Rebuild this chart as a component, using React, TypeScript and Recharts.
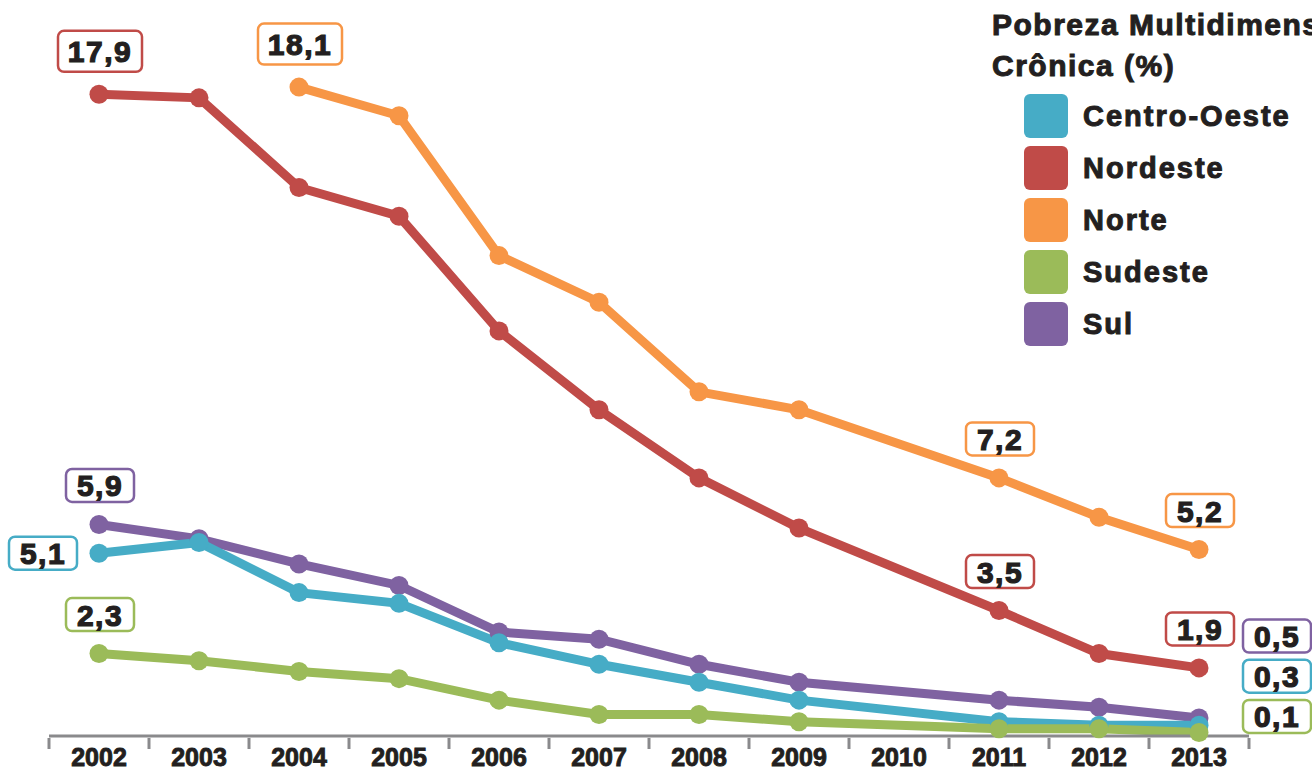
import React from 'react';
import { Legend, Line, LineChart, XAxis, YAxis } from 'recharts';

const years = ['2002', '2003', '2004', '2005', '2006', '2007', '2008', '2009', '2010', '2011', '2012', '2013'];

const centroOeste = [5.1, 5.4, 4.0, 3.7, 2.6, 2.0, 1.5, 1.0, null, 0.4, 0.3, 0.3];
const nordeste = [17.9, 17.8, 15.3, 14.5, 11.3, 9.1, 7.2, 5.8, null, 3.5, 2.3, 1.9];
const norte = [null, null, 18.1, 17.3, 13.4, 12.1, 9.6, 9.1, null, 7.2, 6.1, 5.2];
const sudeste = [2.3, 2.1, 1.8, 1.6, 1.0, 0.6, 0.6, 0.4, null, 0.2, 0.2, 0.1];
const sul = [5.9, 5.5, 4.8, 4.2, 2.9, 2.7, 2.0, 1.5, null, 1.0, 0.8, 0.5];

const legendOrder = ['Centro-Oeste', 'Nordeste', 'Norte', 'Sudeste', 'Sul'];

// anos com rótulo em cada série
const centroOesteLabels = ['2002', '2013'];
const nordesteLabels = ['2002', '2011', '2013'];
const norteLabels = ['2004', '2011', '2013'];
const sudesteLabels = ['2002', '2013'];
const sulLabels = ['2002', '2013'];

const data = years.map((year, i) => ({
  year,
  'Centro-Oeste': centroOeste[i],
  Nordeste: nordeste[i],
  Norte: norte[i],
  Sudeste: sudeste[i],
  Sul: sul[i],
}));

const FONT = '"Liberation Sans", Arial, Helvetica, sans-serif';
const TEXT = '#231F20';
const AXIS = '#8A8A8C';

const colors: Record<string, string> = {
  'Centro-Oeste': '#46ACC6',
  Nordeste: '#C04B48',
  Norte: '#F79646',
  Sudeste: '#9BBB59',
  Sul: '#7F62A1',
};

type Place = { dx: number; dy: number; big?: boolean };

const isBig = (name: string, year: string) =>
  (name === 'Nordeste' && year === '2002') || (name === 'Norte' && year === '2004');

const placeFor = (name: string, year: string): Place => {
  if (year === '2013' && name === 'Sul') return { dx: 78, dy: -82 };
  if (year === '2013' && name === 'Centro-Oeste') return { dx: 78, dy: -49 };
  if (year === '2013' && name === 'Sudeste') return { dx: 78, dy: -16 };
  if (name === 'Centro-Oeste') return { dx: -56, dy: 0 };
  if (isBig(name, year)) return { dx: 1, dy: -43, big: true };
  return { dx: 1, dy: -39 };
};

const makeLabel = (name: string, labelled: string[]) => (props: any) => {
  const { x, y, value, index } = props;
  const year = years[index];
  if (value == null || !labelled.includes(year)) return <g key={index} />;
  const p = placeFor(name, year);
  const w = p.big ? 84 : 68;
  const h = p.big ? 41 : 33;
  const cx = x + p.dx;
  const cy = y + p.dy;
  return (
    <g key={index}>
      <rect
        x={cx - w / 2}
        y={cy - h / 2}
        width={w}
        height={h}
        rx={6}
        fill='#fff'
        stroke={colors[name]}
        strokeWidth={2.5}
      />
      <text
        x={cx}
        y={cy + 11}
        textAnchor='middle'
        fontFamily={FONT}
        fontWeight={700}
        fontSize={30}
        letterSpacing={1.5}
        fill={TEXT}
        stroke={TEXT}
        strokeWidth={1.2}
      >
        {Number(value).toFixed(1).replace('.', ',')}
      </text>
    </g>
  );
};

const YearTick = (props: any) => {
  const { x, y, payload, index } = props;
  const half = 50;
  const top = y - 6;
  return (
    <g>
      <line x1={x - half} x2={x - half} y1={top} y2={top + 11} stroke={AXIS} strokeWidth={3} />
      {index === years.length - 1 && (
        <line x1={x + half} x2={x + half} y1={top} y2={top + 11} stroke={AXIS} strokeWidth={3} />
      )}
      <text
        x={x}
        y={top + 28}
        textAnchor='middle'
        fontFamily={FONT}
        fontWeight={700}
        fontSize={25}
        fill={TEXT}
        stroke={TEXT}
        strokeWidth={0.9}
      >
        {payload.value}
      </text>
    </g>
  );
};

const LegendBox = (props: any) => {
  const items = [...(props.payload || [])].sort(
    (a: any, b: any) => legendOrder.indexOf(a.value) - legendOrder.indexOf(b.value),
  );
  return (
    <div
      style={{
        fontFamily: FONT,
        fontWeight: 700,
        color: TEXT,
        whiteSpace: 'nowrap',
        textAlign: 'left',
        WebkitTextStroke: `1px ${TEXT}`,
      }}
    >
      <div style={{ fontSize: 30, lineHeight: '41px', letterSpacing: 1.5, marginTop: 4 }}>
        <div>Pobreza Multidimensional</div>
        <div>Crônica (%)</div>
      </div>
      <div style={{ marginTop: 4, paddingLeft: 32 }}>
        {items.map((item: any) => (
          <div key={item.value} style={{ display: 'flex', alignItems: 'center', height: 52 }}>
            <div style={{ width: 44, height: 44, borderRadius: 6, background: item.color }} />
            <span style={{ marginLeft: 15, fontSize: 29, letterSpacing: 2 }}>{item.value}</span>
          </div>
        ))}
      </div>
    </div>
  );
};

const series = [
  { name: 'Norte', labels: norteLabels },
  { name: 'Nordeste', labels: nordesteLabels },
  { name: 'Sul', labels: sulLabels },
  { name: 'Centro-Oeste', labels: centroOesteLabels },
  { name: 'Sudeste', labels: sudesteLabels },
];

export default function App() {
  return (
    <div style={{ position: 'absolute', left: 0, top: 0, width: 1312, height: 767, overflow: 'hidden', background: '#fff' }}>
      <LineChart width={1312} height={767} data={data} margin={{ top: 19, right: 63, bottom: 0, left: 49 }}>
        <XAxis
          dataKey='year'
          padding={{ left: 50, right: 50 }}
          height={31}
          axisLine={{ stroke: AXIS, strokeWidth: 3 }}
          tickLine={false}
          tick={<YearTick />}
          interval={0}
        />
        <YAxis hide domain={[0, 20]} />
        <Legend
          layout='vertical'
          align='center'
          verticalAlign='middle'
          content={<LegendBox />}
          wrapperStyle={{ left: 992, top: 0, width: 320 }}
        />
        {series.map((s) => (
          <Line
            key={s.name}
            type='linear'
            dataKey={s.name}
            stroke={colors[s.name]}
            strokeWidth={9}
            connectNulls
            dot={{ r: 9.5, fill: colors[s.name], stroke: colors[s.name], strokeWidth: 0 }}
            activeDot={false}
            label={makeLabel(s.name, s.labels)}
            isAnimationActive={false}
          />
        ))}
      </LineChart>
    </div>
  );
}
